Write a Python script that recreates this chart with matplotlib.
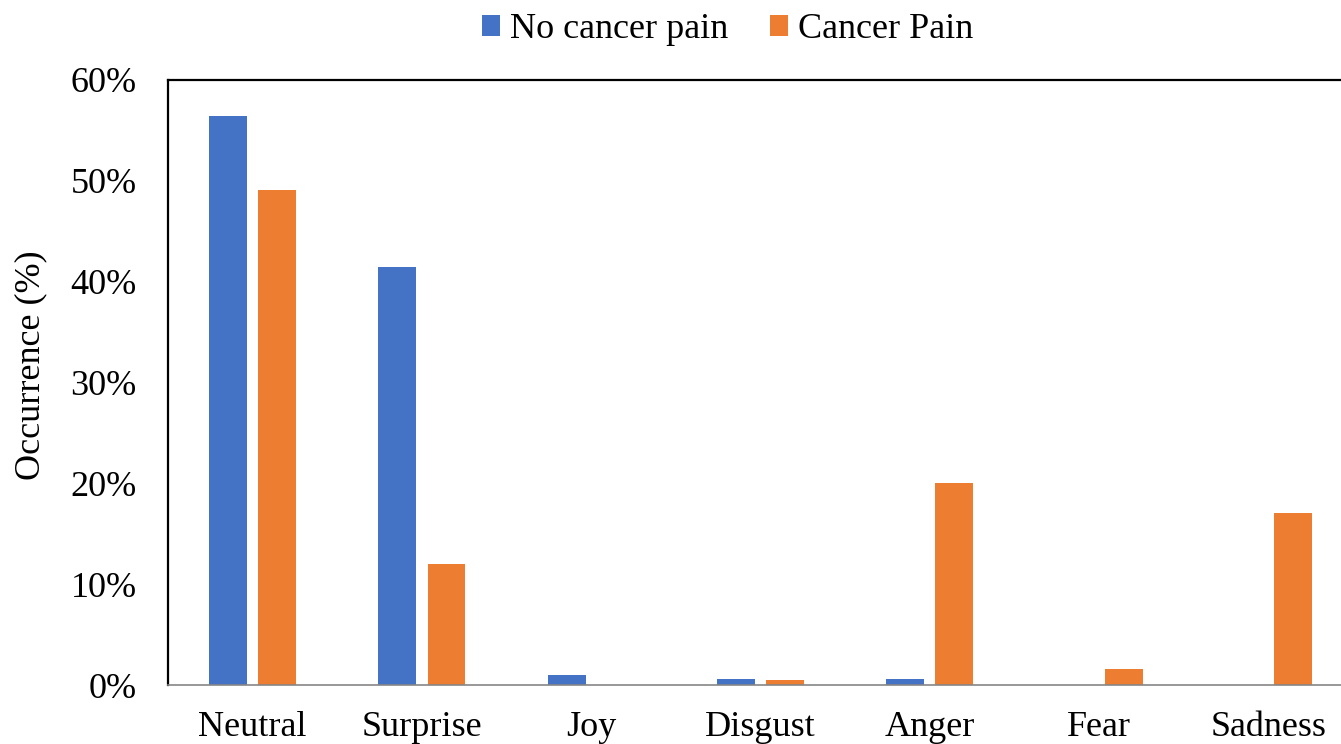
import numpy as np
import matplotlib.pyplot as plt
from matplotlib.ticker import PercentFormatter

plt.rcParams['font.family'] = ['Liberation Serif', 'DejaVu Serif']

emotions = ["Neutral", "Surprise", "Joy", "Disgust", "Anger", "Fear", "Sadness"]
no_pain = [56.4, 41.5, 1.0, 0.6, 0.6, 0.0, 0.0]
pain = [49.1, 12.0, 0.0, 0.5, 20.0, 1.6, 17.1]

blue = "#4472C4"
orange = "#ED7D31"

fig = plt.figure(figsize=(13.41, 7.44), dpi=100)
W, H = 1341, 744
ax = fig.add_axes([168 / W, (H - 685) / H, (1353 - 168) / W, (685 - 80) / H])

x = np.arange(len(emotions))
w = 0.224
b1 = ax.bar(x - 0.145, no_pain, w, color=blue, label="No cancer pain")
b2 = ax.bar(x + 0.145, pain, w, color=orange, label="Cancer Pain")

ax.set_xlim(-0.5, len(emotions) - 0.5)
ax.set_ylim(0, 60)
ax.set_yticks(np.arange(0, 61, 10))
ax.yaxis.set_major_formatter(PercentFormatter(decimals=0))
ax.set_xticks(x)
ax.set_xticklabels(emotions)
ax.tick_params(axis="both", length=0, labelsize=26)
ax.tick_params(axis="x", pad=19)
ax.tick_params(axis="y", pad=22.5)

ax.set_ylabel("Occurrence (%)", fontsize=26)
ax.yaxis.set_label_coords(-0.102, 0.528)

for side in ["left", "top", "right"]:
    ax.spines[side].set_color("black")
    ax.spines[side].set_linewidth(1.6)
ax.spines["bottom"].set_color("#868686")
ax.spines["bottom"].set_linewidth(1.2)

fig.legend(handles=[b1, b2], loc="upper center", bbox_to_anchor=(728 / W, 1.026),
           ncol=2, frameon=False, fontsize=26, handlelength=0.5, handleheight=0.5,
           handletextpad=0.28, columnspacing=1.15)

fig.savefig("out.png", dpi=100)
